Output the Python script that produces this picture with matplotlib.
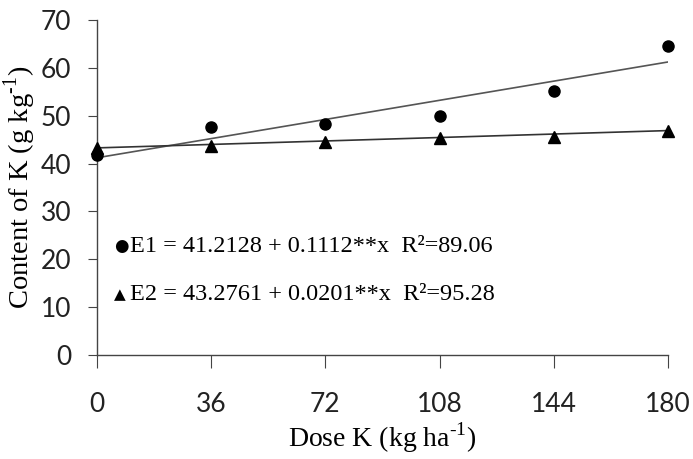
import matplotlib
matplotlib.use("Agg")
import matplotlib.pyplot as plt
import numpy as np

# doses and measured K contents
dose = [0, 36, 72, 108, 144, 180]
e1 = [41.8, 47.6, 48.3, 50.0, 55.2, 64.6]
e2 = [43.2, 43.6, 44.5, 45.3, 45.6, 46.9]

# fitted equations (intercept, slope)
e1_fit = (41.2128, 0.1112)
e2_fit = (43.2761, 0.0201)

plt.rcParams['mathtext.fontset'] = 'custom'
plt.rcParams['mathtext.rm'] = 'Liberation Serif'

fig = plt.figure(figsize=(6.93, 4.59), dpi=100)
ax = fig.add_axes([97 / 693, 1 - 355 / 459, (668 - 97) / 693, (355 - 20) / 459])

xs = np.array([0, 180])
ax.plot(xs, e1_fit[0] + e1_fit[1] * xs, color='#555555', lw=1.2)
ax.plot(xs, e2_fit[0] + e2_fit[1] * xs, color='#333333', lw=1.2)
ax.plot(dose, e1, 'o', color='black', ms=8, clip_on=False, zorder=3)
ax.plot(dose, e2, '^', color='black', ms=9, clip_on=False, zorder=3)

ax.set_xlim(0, 180)
ax.set_ylim(0, 70)
ax.set_xticks(dose)
ax.set_yticks(range(0, 71, 10))
ax.spines['top'].set_visible(False)
ax.spines['right'].set_visible(False)
for s in ('left', 'bottom'):
    ax.spines[s].set_color('#444444')
    ax.spines[s].set_linewidth(1.0)
ax.tick_params(axis='x', direction='out', length=9, pad=18, color='#444444')
ax.tick_params(axis='y', direction='out', length=6.5, pad=12, color='#444444')
for lab in ax.get_xticklabels() + ax.get_yticklabels():
    lab.set_fontfamily('Lato')
    lab.set_fontsize(19)
    lab.set_color('#222222')

ax.set_xlabel('Dose K (kg ha$^{\\mathregular{\u20101}}$)', family='Liberation Serif',
              fontsize=20, labelpad=2)
ax.set_ylabel('Content of K (g kg$^{\\mathregular{\u20101}}$)', family='Liberation Serif',
              fontsize=20.5, labelpad=2)

ax.text(0.03, 0.325, '\u25CF', transform=ax.transAxes, fontsize=12,
        family='DejaVu Sans', va='center')
ax.text(0.057, 0.325, 'E1 = 41.2128 + 0.1112**x  R\u00b2=89.06', transform=ax.transAxes,
        fontsize=17.5, family='Liberation Serif', va='center')
ax.text(0.03, 0.18, '\u25B2', transform=ax.transAxes, fontsize=11,
        family='DejaVu Sans', va='center')
ax.text(0.057, 0.18, 'E2 = 43.2761 + 0.0201**x  R\u00b2=95.28', transform=ax.transAxes,
        fontsize=17.5, family='Liberation Serif', va='center')

fig.savefig('out.png', dpi=100)
